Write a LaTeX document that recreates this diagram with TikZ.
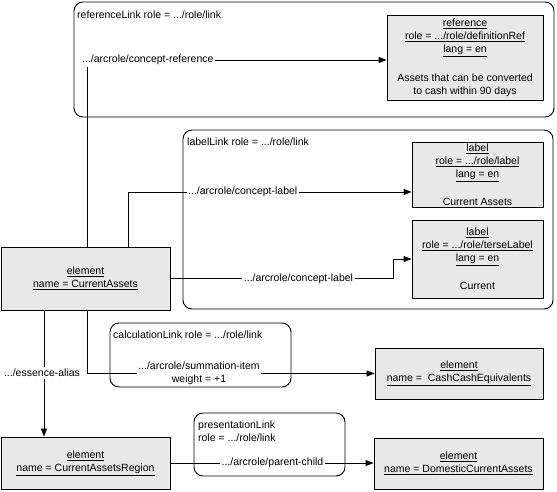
\documentclass[tikz,border=0pt]{standalone}
\usepackage{fontspec}
\setmainfont{Liberation Sans}
\usetikzlibrary{arrows.meta}
\definecolor{boxgray}{RGB}{232,232,232}
\begin{document}
\begin{tikzpicture}[x=1pt,y=-1pt, font=\fontsize{10.5}{13}\selectfont,
  cont/.style={draw, rounded corners=9pt, line width=0.9pt, inner sep=0pt},
  box/.style={draw, fill=boxgray, line width=0.9pt, align=center, inner sep=0pt},
  lbl/.style={fill=white, inner sep=1.5pt, align=center},
  ttl/.style={anchor=west, inner sep=0pt, align=left},
  conn/.style={line width=0.9pt},
  arr/.style={conn, -{Triangle[length=8pt,width=6pt]}}
]
\useasboundingbox (0,0) rectangle (557,491);

% containers
\node[cont, minimum width=480, minimum height=115] (reflink) at (314,59.5) {};
\node[cont, minimum width=370, minimum height=179] (lablink) at (368,219.5) {};
\node[cont, minimum width=181, minimum height=64] (calclink) at (200.5,355) {};
\node[cont, minimum width=151, minimum height=63] (preslink) at (269.5,444.5) {};

% container titles
\node[ttl] (treflink) at (77,15) {referenceLink role = .../role/link};
\node[ttl] (tlablink) at (187,142) {labelLink role = .../role/link};
\node[ttl] (tcalclink) at (113,335) {calculationLink role = .../role/link};
\node[ttl] (tpreslink) at (198,431.5) {presentationLink\\role = .../role/link};

% boxes
\node[box, minimum width=156, minimum height=85] (ref) at (465,57.5)
  {\underline{reference}\\\underline{role = .../role/definitionRef}\\\underline{lang = en}\\[16pt]Assets that can be converted\\to cash within 90 days};
\node[box, minimum width=131, minimum height=65] (lab1) at (477.5,174.5)
  {\underline{label}\\\underline{role = .../role/label}\\\underline{lang = en}\\[15pt]Current Assets};
\node[box, minimum width=131, minimum height=78] (lab2) at (477.5,259)
  {\underline{label}\\\underline{role = .../role/terseLabel}\\\underline{lang = en}\\[15pt]Current};
\node[box, minimum width=169, minimum height=63] (elem) at (85.5,278.5)
  {\underline{element}\\\underline{name = CurrentAssets}};
\node[box, minimum width=168, minimum height=51] (cash) at (459,373.5)
  {\underline{element}\\\underline{name = \ CashCashEquivalents}};
\node[box, minimum width=169, minimum height=52] (region) at (85.5,463)
  {\underline{element}\\\underline{name = CurrentAssetsRegion}};
\node[box, minimum width=169, minimum height=51] (domestic) at (458.5,463.5)
  {\underline{element}\\\underline{name = DomesticCurrentAssets}};

% connector labels
\node[lbl, anchor=west] (lref) at (80.5,60) {.../arcrole/concept-reference};
\node[lbl, anchor=west] (lcl1) at (186.5,192) {.../arcrole/concept-label};
\node[lbl] (lcl2) at (298.5,278.5) {.../arcrole/concept-label};
\node[lbl] (lea) at (42,373) {.../essence-alias};
\node[lbl] (lsum) at (199,373.5) {.../arcrole/summation-item\\weight = +1};
\node[lbl] (lpc) at (272.5,463) {.../arcrole/parent-child};

% helper coordinates
\coordinate (xa) at (87,0);
\coordinate (xb) at (128,0);
\coordinate (xc) at (44,0);
\coordinate (xk) at (393,0);

% connectors
\draw[conn] (elem.north -| xa) -- (lref.south -| xa);
\draw[arr] (lref.east) -- (ref.west |- lref.east);
\draw[conn] (elem.north -| xb) |- (lcl1.west);
\draw[arr] (lcl1.east) -- (lab1.west |- lcl1.east);
\draw[conn] (elem.east) -- (lcl2.west);
\draw[arr] (lcl2.east) -| (xk |- lab2.west) -- (lab2.west);
\draw[conn] (elem.south -| xc) -- (lea.north -| xc);
\draw[arr] (lea.south -| xc) -- (region.north -| xc);
\draw[conn] (elem.south -| xa) |- (lsum.west);
\draw[arr] (lsum.east) -- (cash.west |- lsum.east);
\draw[conn] (region.east) -- (lpc.west);
\draw[arr] (lpc.east) -- (domestic.west |- lpc.east);
\end{tikzpicture}
\end{document}
